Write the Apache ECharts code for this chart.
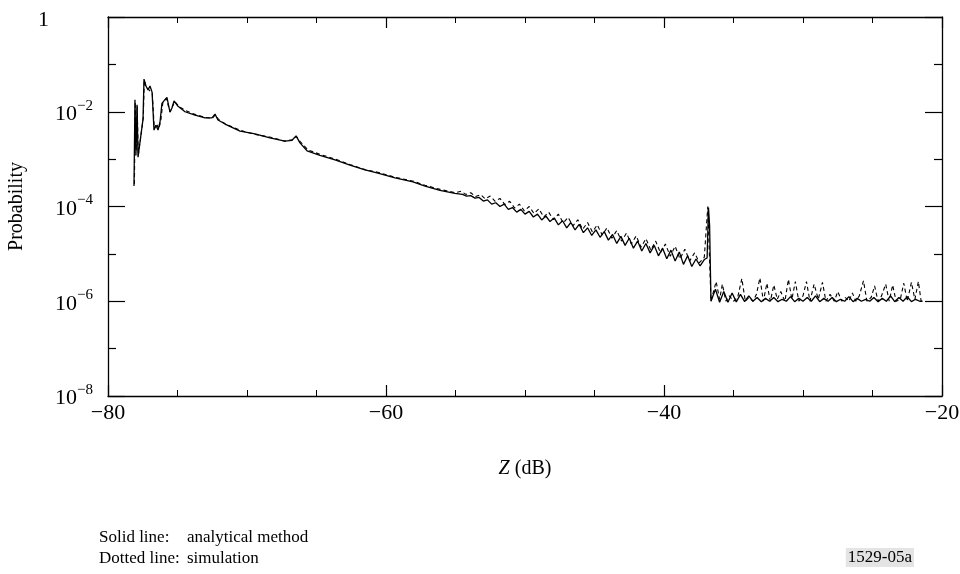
<!DOCTYPE html>
<html>
<head>
<meta charset="utf-8">
<script src="https://cdn.jsdelivr.net/npm/echarts@6/dist/echarts.min.js"></script>
<style>
  html, body { margin: 0; padding: 0; background: #fff; }
  #chart { width: 960px; height: 574px; }
</style>
</head>
<body>
<div id="chart"></div>
<script>
// Z (dB) / probability
const zAnalytic = [
  -78.13, -78.06, -77.99, -77.91, -77.84, -77.48, -77.41, -77.27, -77.12, -76.98,
  -76.83, -76.69, -76.55, -76.40, -76.26, -76.12, -75.90, -75.76, -75.54, -75.40,
  -75.25, -74.96, -74.46, -73.74, -73.02, -72.52, -72.30, -72.09, -71.58, -70.50,
  -69.42, -68.35, -67.27, -66.76, -66.47, -66.19, -65.68, -64.75, -63.67, -62.59,
  -61.51, -60.65, -59.35, -58.06, -57.19, -56.12, -55.04,
  -54.5, -54.2, -53.9, -53.6, -53.3, -53.0, -52.7, -52.4, -52.1, -51.8,
  -51.5, -51.2, -50.9, -50.6, -50.3, -50.0, -49.7, -49.4, -49.1, -48.8,
  -48.5, -48.2, -47.9, -47.6, -47.3, -47.0, -46.7, -46.4, -46.1, -45.8,
  -45.5, -45.2, -44.9, -44.6, -44.3, -44.0, -43.7, -43.4, -43.1, -42.8,
  -42.5, -42.2, -41.9, -41.6, -41.3, -41.0, -40.7, -40.4, -40.1, -39.8,
  -39.5, -39.2, -38.9, -38.6, -38.3, -38.0, -37.7, -37.4, -37.1, -36.9,
  -36.8, -36.72, -36.62,
  -36.3, -36.0, -35.7, -35.4, -35.1, -34.8, -34.5, -34.2, -33.9, -33.6,
  -33.3, -33.0, -32.7, -32.4, -32.1, -31.8, -31.5, -31.2, -30.9, -30.6,
  -30.3, -30.0, -29.7, -29.4, -29.1, -28.8, -28.5, -28.2, -27.9, -27.6,
  -27.3, -27.0, -26.7, -26.4, -26.1, -25.8, -25.5, -25.2, -24.9, -24.6,
  -24.3, -24.0, -23.7, -23.4, -23.1, -22.8, -22.5, -22.2, -21.9, -21.6,
  -21.4
]
const pAnalytic = [
  2.7e-4, 1.8e-2, 1.2e-3, 1.4e-2, 1.1e-3, 7.0e-3, 4.9e-2, 3.5e-2, 2.9e-2, 3.5e-2,
  2.6e-2, 4.1e-3, 5.2e-3, 4.1e-3, 6.0e-3, 1.5e-2, 1.8e-2, 2.0e-2, 9.8e-3, 1.2e-2,
  1.7e-2, 1.3e-2, 1.0e-2, 8.5e-3, 7.4e-3, 7.4e-3, 8.9e-3, 6.7e-3, 5.5e-3, 3.9e-3,
  3.4e-3, 2.8e-3, 2.4e-3, 2.5e-3, 3.1e-3, 2.2e-3, 1.5e-3, 1.2e-3, 9.6e-4, 7.5e-4,
  5.9e-4, 5.1e-4, 4.0e-4, 3.3e-4, 2.7e-4, 2.2e-4, 1.9e-4,
  1.8e-4, 1.66e-4, 1.7e-4, 1.5e-4, 1.55e-4, 1.3e-4, 1.38e-4, 1.12e-4, 1.2e-4, 1.0e-4,
  1.12e-4, 8.7e-5, 9.5e-5, 7.6e-5, 8.7e-5, 6.9e-5, 7.9e-5, 6.0e-5, 6.9e-5, 5.2e-5,
  6.3e-5, 4.8e-5, 5.75e-5, 4.1e-5, 5.0e-5, 3.55e-5, 4.6e-5, 3.2e-5, 4.2e-5, 2.8e-5,
  3.55e-5, 2.45e-5, 3.2e-5, 2.24e-5, 2.95e-5, 1.95e-5, 2.57e-5, 1.66e-5, 2.34e-5, 1.51e-5,
  2.14e-5, 1.32e-5, 1.86e-5, 1.15e-5, 1.66e-5, 1.05e-5, 1.51e-5, 9.1e-6, 1.32e-5, 7.9e-6,
  1.2e-5, 7.1e-6, 1.1e-5, 6.0e-6, 9.1e-6, 5.4e-6, 7.8e-6, 5.6e-6, 7.6e-6, 8.2e-6,
  9.5e-5, 4.0e-5, 1.0e-6,
  1.8e-6, 0.95e-6, 1.6e-6, 0.95e-6, 1.5e-6, 0.97e-6, 1.4e-6, 0.98e-6, 1.3e-6, 1.0e-6,
  1.2e-6, 0.98e-6, 1.15e-6, 1.0e-6, 1.2e-6, 0.98e-6, 1.1e-6, 1.0e-6, 1.25e-6, 0.98e-6,
  1.15e-6, 1.0e-6, 1.2e-6, 1.0e-6, 1.3e-6, 0.98e-6, 1.15e-6, 1.0e-6, 1.2e-6, 0.98e-6,
  1.1e-6, 1.0e-6, 1.25e-6, 0.98e-6, 1.15e-6, 1.0e-6, 1.1e-6, 1.0e-6, 1.2e-6, 0.98e-6,
  1.15e-6, 1.0e-6, 1.3e-6, 0.98e-6, 1.2e-6, 1.0e-6, 1.25e-6, 0.98e-6, 1.1e-6, 1.0e-6,
  1.0e-6
]

const zSimulation = [
  -78.10, -78.04, -77.97, -77.90, -77.82, -77.46, -77.39, -77.25, -77.10, -76.96,
  -76.81, -76.67, -76.50, -76.35, -76.20, -76.05, -75.80, -75.55, -75.38, -75.20,
  -74.90, -74.40, -73.70, -73.00, -72.50, -72.28, -72.05, -71.50, -70.40, -69.40,
  -68.30, -67.30, -66.75, -66.45, -66.15, -65.60, -64.70, -63.60, -62.60, -61.50,
  -60.60, -59.30, -58.00, -57.20, -56.10, -55.00,
  -54.6, -54.25, -53.9, -53.55, -53.2, -52.85, -52.5, -52.15, -51.8, -51.45,
  -51.1, -50.75, -50.4, -50.05, -49.7, -49.35, -49.0, -48.65, -48.3, -47.95,
  -47.6, -47.25, -46.9, -46.55, -46.2, -45.85, -45.5, -45.15, -44.8, -44.45,
  -44.1, -43.75, -43.4, -43.05, -42.7, -42.35, -42.0, -41.65, -41.3, -40.95,
  -40.6, -40.25, -39.9, -39.55, -39.2, -38.85, -38.5, -38.15, -37.8, -37.45,
  -37.1, -36.85, -36.62,
  -36.5, -36.25, -36.0, -35.8, -35.55, -35.3, -35.0, -34.7, -34.4, -34.15,
  -33.9, -33.6, -33.35, -33.1, -32.85, -32.6, -32.35, -32.1, -31.85, -31.6,
  -31.3, -31.05, -30.8, -30.55, -30.3, -30.0, -29.75, -29.5, -29.2, -28.9,
  -28.6, -28.35, -28.05, -27.75, -27.5, -27.2, -26.95, -26.7, -26.45, -26.2,
  -25.95, -25.65, -25.4, -25.1, -24.85, -24.6, -24.35, -24.05, -23.8, -23.55,
  -23.3, -23.0, -22.75, -22.5, -22.2, -21.95, -21.7, -21.5
]
const pSimulation = [
  3.0e-4, 1.6e-2, 1.5e-3, 1.3e-2, 1.2e-3, 7.5e-3, 4.6e-2, 3.3e-2, 3.0e-2, 3.3e-2,
  2.4e-2, 4.4e-3, 5.6e-3, 4.3e-3, 6.5e-3, 1.6e-2, 1.9e-2, 1.0e-2, 1.25e-2, 1.65e-2,
  1.3e-2, 1.05e-2, 8.7e-3, 7.6e-3, 7.3e-3, 8.6e-3, 6.9e-3, 5.4e-3, 4.0e-3, 3.3e-3,
  2.9e-3, 2.4e-3, 2.55e-3, 3.0e-3, 2.3e-3, 1.55e-3, 1.25e-3, 9.9e-4, 7.7e-4, 6.0e-4,
  5.3e-4, 4.1e-4, 3.4e-4, 2.8e-4, 2.3e-4, 1.95e-4,
  2.1e-4, 1.8e-4, 1.95e-4, 1.62e-4, 1.78e-4, 1.45e-4, 1.66e-4, 1.29e-4, 1.48e-4, 1.1e-4,
  1.29e-4, 9.3e-5, 1.12e-4, 8.1e-5, 1.0e-4, 7.1e-5, 8.9e-5, 6.0e-5, 7.6e-5, 5.25e-5,
  6.9e-5, 4.5e-5, 5.9e-5, 3.9e-5, 5.25e-5, 3.3e-5, 4.6e-5, 2.9e-5, 4.1e-5, 2.5e-5,
  3.55e-5, 2.14e-5, 3.1e-5, 1.86e-5, 2.75e-5, 1.62e-5, 2.4e-5, 1.38e-5, 2.1e-5, 1.2e-5,
  1.86e-5, 1.05e-5, 1.62e-5, 8.9e-6, 1.45e-5, 7.8e-6, 1.26e-5, 7.1e-6, 1.05e-5, 6.5e-6,
  8.5e-6, 1.0e-4, 1.0e-6,
  1.0e-6, 2.6e-6, 1.1e-6, 2.3e-6, 1.0e-6, 1.3e-6, 1.0e-6, 1.2e-6, 3.0e-6, 1.0e-6,
  1.2e-6, 1.0e-6, 1.4e-6, 3.1e-6, 1.0e-6, 2.4e-6, 1.0e-6, 2.2e-6, 1.1e-6, 1.6e-6,
  1.0e-6, 2.9e-6, 1.1e-6, 2.6e-6, 1.0e-6, 1.3e-6, 2.6e-6, 1.0e-6, 2.3e-6, 1.1e-6,
  2.5e-6, 1.0e-6, 1.4e-6, 1.0e-6, 1.6e-6, 1.0e-6, 1.2e-6, 1.0e-6, 1.5e-6, 1.0e-6,
  1.3e-6, 2.7e-6, 1.0e-6, 1.2e-6, 2.1e-6, 1.0e-6, 1.3e-6, 2.3e-6, 1.0e-6, 2.2e-6,
  1.0e-6, 1.1e-6, 2.4e-6, 1.0e-6, 2.5e-6, 1.1e-6, 2.6e-6, 1.0e-6
]

const FONT = '"Liberation Serif", "Times New Roman", serif'
const MINUS = '\u2212'

const zip = (xs, ys) => xs.map((x, i) => [x, ys[i]])

const chart = echarts.init(document.getElementById('chart'))

const frameLine = { show: true, onZero: false, lineStyle: { color: '#000', width: 1.3 } }
const xTicks = {
  axisTick: { inside: true, length: 11, lineStyle: { color: '#000', width: 1.2 } },
  minorTick: { show: true, splitNumber: 4, length: 6, lineStyle: { color: '#000', width: 1 } }
}
const yTicks = {
  axisTick: { inside: true, length: 17, lineStyle: { color: '#000', width: 1.2 } },
  minorTick: { show: true, splitNumber: 2, length: 8, lineStyle: { color: '#000', width: 1.2 } }
}

chart.setOption({
  animation: false,
  backgroundColor: '#fff',
  grid: { left: 108, right: 18, top: 17, bottom: 178, containLabel: false, outerBoundsMode: 'none' },
  xAxis: [{
    type: 'value',
    position: 'bottom',
    min: -80,
    max: -20,
    interval: 20,
    axisLine: frameLine,
    splitLine: { show: false },
    ...xTicks,
    axisLabel: {
      margin: 6,
      color: '#000',
      fontFamily: FONT,
      fontSize: 22,
      formatter: v => (v < 0 ? MINUS + (-v) : String(v))
    },
    name: '{i|Z} (dB)',
    nameLocation: 'middle',
    nameGap: 63,
    nameTextStyle: {
      color: '#000',
      fontFamily: FONT,
      fontSize: 20,
      rich: { i: { fontStyle: 'italic', fontFamily: FONT, fontSize: 20, color: '#000' } }
    }
  }, {
    type: 'value',
    position: 'top',
    min: -80,
    max: -20,
    interval: 20,
    axisLine: frameLine,
    splitLine: { show: false },
    ...xTicks,
    axisLabel: { show: false }
  }],
  yAxis: [{
    // data axis
    type: 'log',
    logBase: 10,
    min: 1e-8,
    max: 1,
    show: false
  }, {
    // decade ticks and labels, in powers of ten
    type: 'value',
    position: 'left',
    min: -8,
    max: 0,
    interval: 2,
    axisLine: frameLine,
    splitLine: { show: false },
    ...yTicks,
    axisLabel: {
      margin: 15,
      color: '#000',
      fontFamily: FONT,
      fontSize: 22,
      formatter: v => (v === 0 ? '{one|1}' : '{b|10}{s|' + MINUS + (-v) + '}'),
      rich: {
        one: { fontFamily: FONT, fontSize: 22, color: '#000', padding: [7, 44, 0, 0] },
        b: { fontFamily: FONT, fontSize: 22, color: '#000', verticalAlign: 'bottom' },
        s: { fontFamily: FONT, fontSize: 15, color: '#000', verticalAlign: 'top', padding: [0, 0, 12, 0] }
      }
    },
    name: 'Probability',
    nameLocation: 'middle',
    nameRotate: 90,
    nameGap: 77,
    nameTextStyle: { color: '#000', fontFamily: FONT, fontSize: 20 }
  }, {
    type: 'value',
    position: 'right',
    min: -8,
    max: 0,
    interval: 2,
    axisLine: frameLine,
    splitLine: { show: false },
    ...yTicks,
    axisLabel: { show: false }
  }],
  series: [{
    name: 'simulation',
    type: 'line',
    xAxisIndex: 0,
    yAxisIndex: 0,
    data: zip(zSimulation, pSimulation),
    symbol: 'none',
    lineStyle: { color: '#000', width: 1.1, type: [4, 3] },
    z: 2
  }, {
    name: 'analytical method',
    type: 'line',
    xAxisIndex: 0,
    yAxisIndex: 0,
    data: zip(zAnalytic, pAnalytic),
    symbol: 'none',
    lineStyle: { color: '#000', width: 1.3 },
    z: 3
  }],
  graphic: [
    { type: 'text', left: 99, top: 529, style: { text: 'Solid line:', fontFamily: FONT, fontSize: 17, fill: '#000' } },
    { type: 'text', left: 187, top: 529, style: { text: 'analytical method', fontFamily: FONT, fontSize: 17, fill: '#000' } },
    { type: 'text', left: 99, top: 550, style: { text: 'Dotted line:', fontFamily: FONT, fontSize: 17, fill: '#000' } },
    { type: 'text', left: 187, top: 550, style: { text: 'simulation', fontFamily: FONT, fontSize: 17, fill: '#000' } },
    {
      type: 'text', right: 46, top: 548,
      style: { text: '1529-05a', fontFamily: FONT, fontSize: 17, fill: '#000', backgroundColor: '#e4e4e4', padding: [1, 2] }
    }
  ]
})
</script>
</body>
</html>
